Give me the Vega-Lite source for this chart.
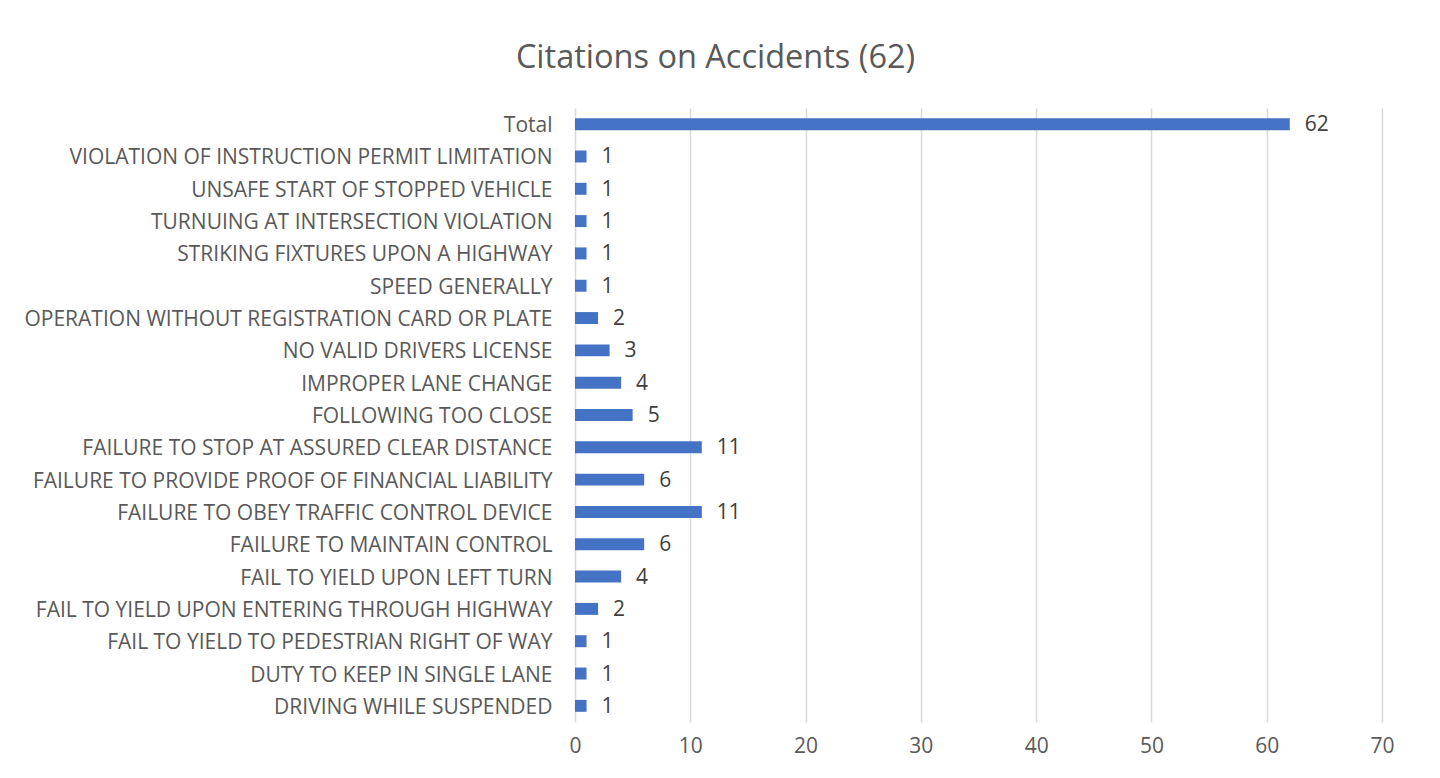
{
  "$schema": "https://vega.github.io/schema/vega-lite/v6.json",
  "width": 807,
  "height": 614,
  "autosize": {"type": "none"},
  "padding": {"left": 575, "top": 108, "right": 58, "bottom": 56},
  "background": "white",
  "title": {
    "text": "Citations on Accidents (62)",
    "anchor": "middle",
    "dx": -263,
    "offset": 34,
    "fontSize": 32.5,
    "font": "Open Sans",
    "fontWeight": "normal",
    "color": "#595959"
  },
  "data": {
    "values": [
      {"citation": "Total", "count": 62},
      {"citation": "VIOLATION OF INSTRUCTION PERMIT LIMITATION", "count": 1},
      {"citation": "UNSAFE START OF STOPPED VEHICLE", "count": 1},
      {"citation": "TURNUING AT INTERSECTION VIOLATION", "count": 1},
      {"citation": "STRIKING FIXTURES UPON A HIGHWAY", "count": 1},
      {"citation": "SPEED GENERALLY", "count": 1},
      {"citation": "OPERATION WITHOUT REGISTRATION CARD OR PLATE", "count": 2},
      {"citation": "NO VALID DRIVERS LICENSE", "count": 3},
      {"citation": "IMPROPER LANE CHANGE", "count": 4},
      {"citation": "FOLLOWING TOO CLOSE", "count": 5},
      {"citation": "FAILURE TO STOP AT ASSURED CLEAR DISTANCE", "count": 11},
      {"citation": "FAILURE TO PROVIDE PROOF OF FINANCIAL LIABILITY", "count": 6},
      {"citation": "FAILURE TO OBEY TRAFFIC CONTROL DEVICE", "count": 11},
      {"citation": "FAILURE TO MAINTAIN CONTROL", "count": 6},
      {"citation": "FAIL TO YIELD UPON LEFT TURN", "count": 4},
      {"citation": "FAIL TO YIELD UPON ENTERING THROUGH HIGHWAY", "count": 2},
      {"citation": "FAIL TO YIELD TO PEDESTRIAN RIGHT OF WAY", "count": 1},
      {"citation": "DUTY TO KEEP IN SINGLE LANE", "count": 1},
      {"citation": "DRIVING WHILE SUSPENDED", "count": 1}
    ]
  },
  "encoding": {
    "y": {
      "field": "citation",
      "type": "nominal",
      "sort": null,
      "scale": {"paddingInner": 0.63, "paddingOuter": 0.315},
      "axis": {
        "title": null,
        "ticks": false,
        "domain": false,
        "labelPadding": 23,
        "labelOffset": 2,
        "labelFontSize": 21,
        "labelFont": "Open Sans",
        "labelColor": "#595959",
        "labelLimit": 700
      }
    },
    "x": {
      "field": "count",
      "type": "quantitative",
      "scale": {"domain": [0, 70], "nice": false},
      "axis": {
        "title": null,
        "values": [0, 10, 20, 30, 40, 50, 60, 70],
        "ticks": false,
        "domain": false,
        "grid": true,
        "gridColor": "#d9d9d9",
        "gridWidth": 1.5,
        "labelFlush": false,
        "labelPadding": 13,
        "labelFontSize": 21,
        "labelFont": "Open Sans",
        "labelColor": "#595959"
      }
    }
  },
  "layer": [
    {"mark": {"type": "bar", "color": "#4472c4"}},
    {
      "mark": {"type": "text", "align": "left", "dx": 15, "dy": 1, "fontSize": 21, "font": "Open Sans", "color": "#404040"},
      "encoding": {"text": {"field": "count", "type": "quantitative"}}
    }
  ],
  "config": {"view": {"stroke": null}}
}
